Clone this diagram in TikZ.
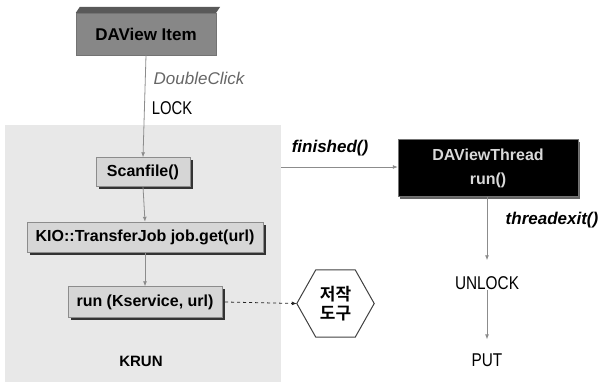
\documentclass[tikz,border=0pt]{standalone}
\usepackage{fontspec}
\setmainfont{Liberation Sans}
\newfontfamily\krfont{Noto Sans CJK KR}[BoldFont={Noto Sans CJK KR Bold}]
\usetikzlibrary{arrows.meta,shadows}
\begin{document}
\begin{tikzpicture}[x=1pt,y=-1pt,
  conn/.style={draw=black!45,line width=0.8pt,-{Latex[length=5pt,width=4pt]}},
  lightbox/.style={draw=black!45,fill=black!16,minimum height=30pt,inner sep=0pt,
     font=\fontsize{16}{19}\selectfont\bfseries,
     drop shadow={shadow xshift=2.5pt,shadow yshift=-2.5pt,fill=black!80,opacity=1}},
  lbl/.style={font=\fontsize{17}{20}\selectfont\bfseries\itshape},
  cond/.style={font=\fontsize{18.5}{21}\selectfont,inner sep=0pt}
]
\useasboundingbox (0,0) rectangle (599,386);
% KRUN region
\fill[black!9] (5,125) rectangle (281,382);
% DAView Item
\node[draw=black!55,fill=black!47,minimum width=140pt,minimum height=42pt,inner sep=0pt,
      font=\fontsize{17}{20}\selectfont\bfseries] (item) at (146,34) {DAView Item};
\fill[black!65] (item.north west) -- ++(4,-6) -- ([xshift=4pt,yshift=6pt]item.north east) -- (item.north east) -- cycle;
% KRUN boxes
\node[lightbox,minimum width=94pt,minimum height=29pt] (scan) at (143,172) {Scanfile()};
\node[lightbox,minimum width=236pt] (kio) at (145,237) {KIO::TransferJob job.get(url)};
\node[lightbox,minimum width=154pt,minimum height=31pt] (run) at (145,302) {run (Kservice, url)};
\node[font=\fontsize{15}{18}\selectfont\bfseries] (krun) at (141,361) {KRUN};
% hexagon
\node[minimum width=77pt,minimum height=67pt,inner sep=0pt,align=center,
      font=\fontsize{17}{20}\selectfont\krfont\bfseries] (hex) at (335.5,303.5) {저작\\[-1pt]도구};
\draw[black!75,line width=1pt] (hex.west) -- ([xshift=19pt]hex.north west) -- ([xshift=-19pt]hex.north east)
   -- (hex.east) -- ([xshift=-19pt]hex.south east) -- ([xshift=19pt]hex.south west) -- cycle;
% DAViewThread
\node[draw=black!55,fill=black,text=white!85!black,minimum width=180pt,minimum height=57pt,inner sep=0pt,
      align=center,font=\fontsize{16}{24}\selectfont\bfseries,
      drop shadow={shadow xshift=2pt,shadow yshift=-2pt,fill=black!60,opacity=1}] (thread) at (488,168) {DAViewThread\\run()};
\node[cond] (unlock) at (487,283) {\scalebox{0.83}[1]{UNLOCK}};
\node[cond] (put) at (487,360) {\scalebox{0.83}[1]{PUT}};
% labels
\node[font=\fontsize{17}{20}\selectfont\itshape,text=black!60] (dc) at (199,78) {DoubleClick};
\node[cond] (lock) at (172,108) {\scalebox{0.8}[1]{LOCK}};
\node[lbl] (fin) at (330,148) {finished()};
\node[lbl] (texit) at (552,220) {threadexit()};
% connectors
\coordinate (fstart) at (281,167);
\draw[conn] (item.south) -- (scan.north);
\draw[conn] (scan.south) -- (kio.north);
\draw[conn] (kio.south) -- (run.north);
\draw[conn] (fstart) -- (thread.west |- fstart);
\draw[conn,shorten >=16pt] (thread.south -| unlock) -- (unlock.north);
\draw[conn,shorten >=14pt] (unlock.south) -- (put.north);
\draw[black!85,line width=0.8pt,dashed,-{Latex[length=5pt,width=4pt]}] ([xshift=3pt]run.east) -- (hex.west);
\end{tikzpicture}
\end{document}
